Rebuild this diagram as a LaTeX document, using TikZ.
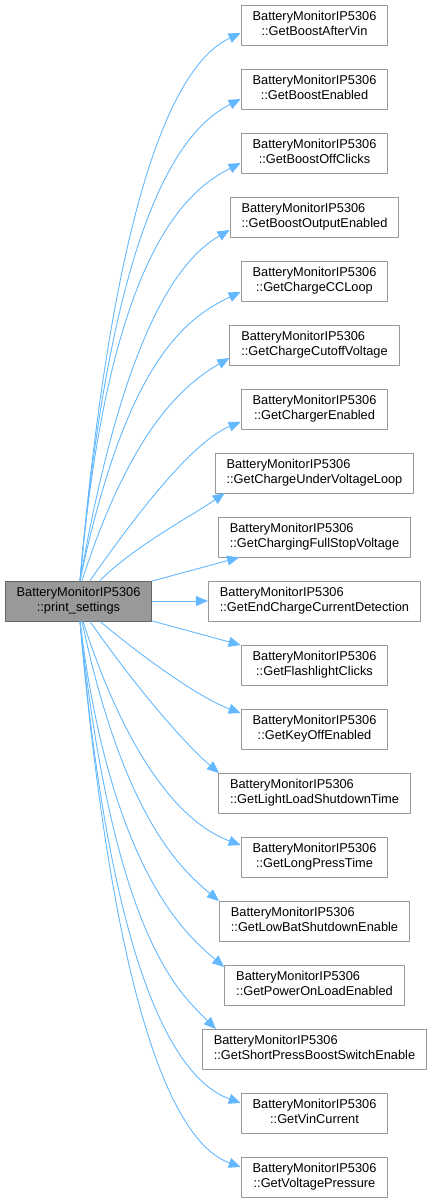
\documentclass[tikz,border=0pt]{standalone}
\usepackage{fontspec}
\setmainfont{Liberation Sans}
\usetikzlibrary{arrows.meta}
\definecolor{edgeblue}{HTML}{63B8FF}
\definecolor{callerfill}{HTML}{999999}
\definecolor{callerline}{HTML}{666666}
\definecolor{calleeline}{HTML}{999999}
% two line doxygen label: class name left, member centred
\newcommand{\fnlabel}[1]{\begin{tabular}{@{}c@{}}\multicolumn{1}{@{}l@{}}{BatteryMonitorIP5306}\\::#1\end{tabular}}
\tikzset{
  fn/.style={draw=calleeline, fill=white, line width=0.9pt, inner xsep=11.5pt, inner ysep=0pt,
    minimum height=40pt, font=\fontsize{12.8}{15}\selectfont},
  caller/.style={fn, draw=callerline, fill=callerfill},
  edge/.style={draw=edgeblue, line width=0.9pt, -{Triangle[length=12pt,width=10pt]}}
}
\begin{document}
\begin{tikzpicture}[x=1pt, y=1pt, line join=round]
  \useasboundingbox (0,0) rectangle (435,-1203);
  \node[caller] (ps) at (78.5,-601) {\fnlabel{print\_settings}};
  % callees, one row every 64pt
  \foreach \n [count=\i] in {BoostAfterVin, BoostEnabled, BoostOffClicks, BoostOutputEnabled,
      ChargeCCLoop, ChargeCutoffVoltage, ChargerEnabled, ChargeUnderVoltageLoop,
      ChargingFullStopVoltage, EndChargeCurrentDetection, FlashlightClicks, KeyOffEnabled,
      LightLoadShutdownTime, LongPressTime, LowBatShutdownEnable, PowerOnLoadEnabled,
      ShortPressBoostSwitchEnable, VinCurrent, VoltagePressure}
    \node[fn] (\n) at (314.5,{-25-64*(\i-1)}) {\fnlabel{Get\n}};
  % curved calls above
  \foreach \n/\sx/\o/\od/\dx/\dy/\a/\ad in {
      BoostAfterVin/1.5/85/430/0/-8/205/60,
      BoostEnabled/1.5/85/380/0/-10/207/60,
      BoostOffClicks/1.5/85/330/0/-10/207/60,
      BoostOutputEnabled/1.5/80/250/0/-13/210/60,
      ChargeCCLoop/1.5/78/210/0/-11/205/70,
      ChargeCutoffVoltage/3.5/72/150/0/-13/210/60,
      ChargerEnabled/11.5/55/90/0/-13/202/50,
      ChargeUnderVoltageLoop/21.5/45/50/10/-20/215/40}
    \draw[edge] ([xshift=\sx pt]ps.north) .. controls +(\o:\od) and +(\a:\ad) ..
      ([xshift=\dx pt, yshift=\dy pt]\n.west);
  % straight calls
  \foreach \n in {ChargingFullStopVoltage, EndChargeCurrentDetection, FlashlightClicks}
    \draw[edge] (ps) -- (\n);
  % curved calls below
  \foreach \n/\sx/\o/\od/\dx/\dy/\a/\ad in {
      KeyOffEnabled/21.5/-40/50/0/16/160/45,
      LightLoadShutdownTime/11.5/-55/90/1/20/140/40,
      LongPressTime/4.5/-72/150/0/12/160/60,
      LowBatShutdownEnable/3.5/-78/200/0/20/140/50,
      PowerOnLoadEnabled/1.5/-83/250/0/18/140/50,
      ShortPressBoostSwitchEnable/1.5/-84/320/14/20/135/50,
      VinCurrent/1.5/-85/380/0/10/160/60,
      VoltagePressure/1.5/-85/430/0/10/160/60}
    \draw[edge] ([xshift=\sx pt]ps.south) .. controls +(\o:\od) and +(\a:\ad) ..
      ([xshift=\dx pt, yshift=\dy pt]\n.west);
\end{tikzpicture}
\end{document}
